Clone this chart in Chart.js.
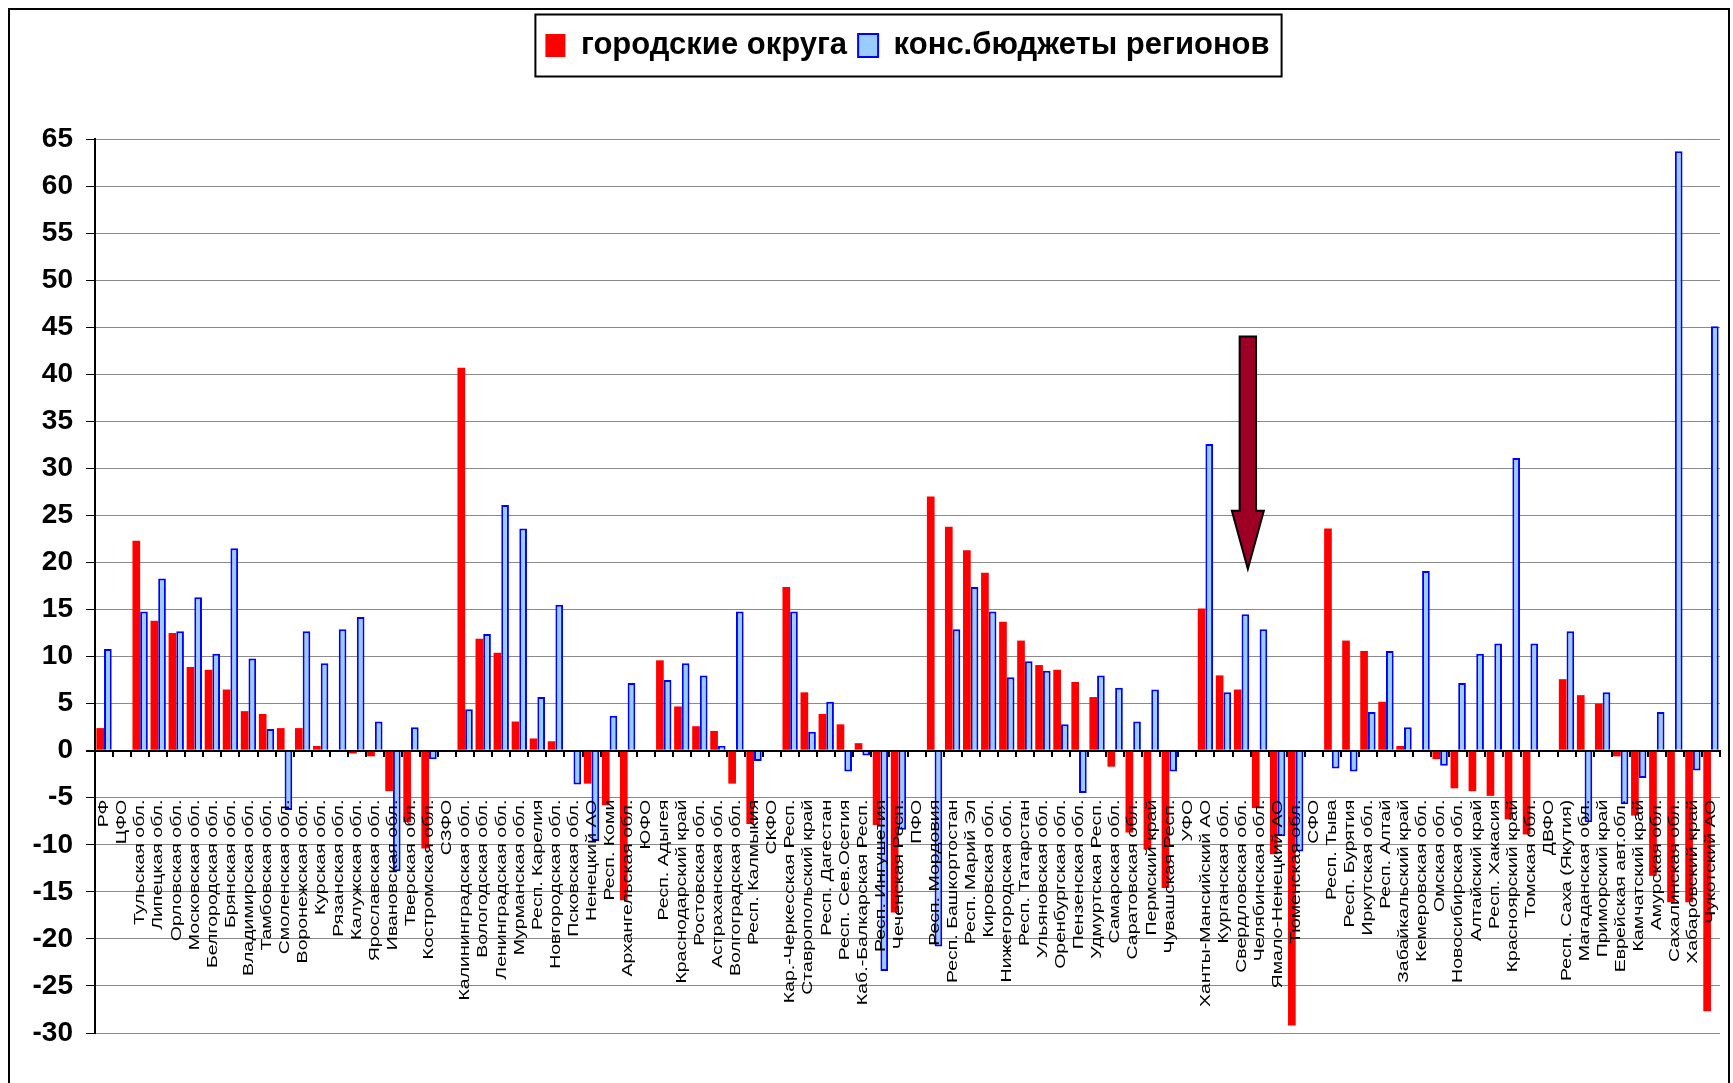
<!DOCTYPE html>
<html lang="ru">
<head>
  <meta charset="UTF-8">
  <title>Городские округа и конс. бюджеты регионов</title>
  <script src="https://cdn.jsdelivr.net/npm/chart.js"></script>
  <style>
    html, body { margin: 0; padding: 0; background: #fff; }
    .wrap { position: relative; width: 1733px; height: 1083px; overflow: hidden; }
    .frame { position: absolute; left: 8px; top: 8px; width: 1722px; height: 1200px;
             border: 2px solid #000; box-sizing: border-box; pointer-events: none; }
  </style>
</head>
<body>
  <div class="wrap">
    <canvas id="chart" width="1733" height="1083"></canvas>
    <div class="frame"></div>
  </div>

  <script>
    // регионы по округам
    const regions = [
      'РФ', 'ЦФО', 'Тульская обл.', 'Липецкая обл.', 'Орловская обл.', 'Московская обл.',
      'Белгородская обл.', 'Брянская обл.', 'Владимирская обл.', 'Тамбовская обл.', 'Смоленская обл.',
      'Воронежская обл.', 'Курская обл.', 'Рязанская обл.', 'Калужская обл.', 'Ярославская обл.',
      'Ивановская обл.', 'Тверская обл.', 'Костромская обл.', 'СЗФО', 'Калининградская обл.',
      'Вологодская обл.', 'Ленинградская обл.', 'Мурманская обл.', 'Респ. Карелия', 'Новгородская обл.',
      'Псковская обл.', 'Ненецкий АО', 'Респ. Коми', 'Архангельская обл.', 'ЮФО', 'Респ. Адыгея',
      'Краснодарский край', 'Ростовская обл.', 'Астраханская обл.', 'Волгоградская обл.', 'Респ. Калмыкия',
      'СКФО', 'Кар.-Черкесская Респ.', 'Ставропольский край', 'Респ. Дагестан', 'Респ. Сев.Осетия',
      'Каб.-Балкарская Респ.', 'Респ. Ингушетия', 'Чеченская Респ.', 'ПФО', 'Респ. Мордовия',
      'Респ. Башкортостан', 'Респ. Марий Эл', 'Кировская обл.', 'Нижегородская обл.', 'Респ. Татарстан',
      'Ульяновская обл.', 'Оренбургская обл.', 'Пензенская обл.', 'Удмуртская Респ.', 'Самарская обл.',
      'Саратовская обл.', 'Пермский край', 'Чувашская Респ.', 'УФО', 'Ханты-Мансийский АО',
      'Курганская обл.', 'Свердловская обл.', 'Челябинская обл.', 'Ямало-Ненецкий АО', 'Тюменская обл.',
      'СФО', 'Респ. Тыва', 'Респ. Бурятия', 'Иркутская обл.', 'Респ. Алтай', 'Забайкальский край',
      'Кемеровская обл.', 'Омская обл.', 'Новосибирская обл.', 'Алтайский край', 'Респ. Хакасия',
      'Красноярский край', 'Томская обл.', 'ДВФО', 'Респ. Саха (Якутия)', 'Магаданская обл.',
      'Приморский край', 'Еврейская авт.обл.', 'Камчатский край', 'Амурская обл.', 'Сахалинская обл.',
      'Хабаровский край', 'Чукотский АО'
    ];

    // городские округа, %
    const gorodOkruga = [
      2.4, null, 22.3, 13.8, 12.5, 8.9, 8.6, 6.5, 4.2, 3.9, 2.4,
      2.4, 0.5, null, -0.3, -0.6, -4.3, -7.6, -10.4, null, 40.7,
      11.9, 10.4, 3.1, 1.3, 1.0, null, -3.5, -5.8, -15.9, null, 9.6,
      4.7, 2.6, 2.1, -3.5, -7.8, null, 17.4, 6.2, 3.9, 2.8,
      0.8, -7.9, -17.2, null, 27.0, 23.8, 21.3, 18.9, 13.7, 11.7,
      9.1, 8.6, 7.3, 5.7, -1.7, -8.7, -10.5, -14.6, null, 15.1,
      8.0, 6.5, -6.1, -11.0, -29.2, null, 23.6, 11.7, 10.6, 5.2, 0.5,
      null, -0.9, -4.0, -4.3, -4.8, -7.3, -8.9, null, 7.6, 5.9,
      5.0, -0.6, -6.9, -13.3, -16.1, -16.1, -27.7
    ];

    // консолидированные бюджеты регионов, %
    const konsBudgety = [
      10.8, null, 14.8, 18.3, 12.7, 16.3, 10.3, 21.5, 9.8, 2.3, -6.3,
      12.7, 9.3, 12.9, 14.2, 3.1, -12.8, 2.5, -0.9, null, 4.4,
      12.4, 26.1, 23.6, 5.7, 15.5, -3.6, -9.6, 3.7, 7.2, null, 7.5,
      9.3, 8.0, 0.5, 14.8, -1.1, null, 14.8, 2.0, 5.2, -2.2,
      -0.5, -23.4, -8.4, null, -20.8, 12.9, 17.4, 14.8, 7.8, 9.5,
      8.5, 2.8, -4.5, 8.0, 6.7, 3.1, 6.5, -2.2, null, 32.6,
      6.2, 14.5, 12.9, -9.1, -10.7, null, -1.9, -2.2, 4.1, 10.6, 2.5,
      19.1, -1.6, 7.2, 10.3, 11.4, 31.1, 11.4, null, 12.7, -7.6,
      6.2, -5.7, -2.9, 4.1, 63.7, -2.1, 45.1
    ];

    const seriesNames = ['городские округа', 'конс.бюджеты регионов'];
    const yMin = -30, yMax = 65, yStep = 5;

    // стрелка над Свердловской обл. (значения по оси Y)
    const arrowMark = { region: 'Свердловская обл.', shift: 0.35, from: 44, head: 25.5, to: 19.3 };

    // подписи регионов: вертикально, растянутые по длине, поверх столбцов
    const regionLabels = {
      id: 'regionLabels',
      afterDatasetsDraw(chart) {
        const xs = chart.scales.x, ys = chart.scales.y, ctx = chart.ctx;
        const top = ys.getPixelForValue(0) + 49;
        ctx.save();
        ctx.font = '15.5px "Liberation Sans", Arial, sans-serif';
        ctx.fillStyle = '#000';
        ctx.textAlign = 'right';
        ctx.textBaseline = 'middle';
        regions.forEach((name, i) => {
          ctx.save();
          ctx.translate(xs.getPixelForValue(i), top);
          ctx.rotate(-Math.PI / 2);
          ctx.scale(1.26, 1);
          ctx.fillText(name, 0, 0);
          ctx.restore();
        });
        ctx.restore();
      }
    };

    const arrowPlugin = {
      id: 'arrowPlugin',
      afterDatasetsDraw(chart) {
        const xs = chart.scales.x, ys = chart.scales.y, ctx = chart.ctx;
        const cx = xs.getPixelForValue(regions.indexOf(arrowMark.region) + arrowMark.shift);
        const y0 = ys.getPixelForValue(arrowMark.from);
        const y1 = ys.getPixelForValue(arrowMark.head);
        const y2 = ys.getPixelForValue(arrowMark.to);
        const sw = 8.2, hw = 16;
        ctx.save();
        ctx.beginPath();
        ctx.moveTo(cx - sw, y0);
        ctx.lineTo(cx + sw, y0);
        ctx.lineTo(cx + sw, y1);
        ctx.lineTo(cx + hw, y1);
        ctx.lineTo(cx, y2);
        ctx.lineTo(cx - hw, y1);
        ctx.lineTo(cx - sw, y1);
        ctx.closePath();
        ctx.fillStyle = '#9e0025';
        ctx.fill();
        ctx.lineWidth = 2;
        ctx.strokeStyle = '#000';
        ctx.stroke();
        ctx.restore();
      }
    };

    // рамка вокруг легенды + высота легенды до области графика
    const legendFrame = {
      id: 'legendFrame',
      afterInit(chart) {
        const legend = chart.legend;
        const fit = legend.fit;
        legend.fit = function () { fit.call(this); this.height = 120; };
      },
      afterDraw(chart) {
        const boxes = chart.legend.legendHitBoxes;
        if (!boxes || !boxes.length) return;
        const first = boxes[0], last = boxes[boxes.length - 1];
        const left = first.left - 10, right = last.left + last.width + 12;
        const mid = first.top + first.height / 2;
        const ctx = chart.ctx;
        ctx.save();
        ctx.lineWidth = 2;
        ctx.strokeStyle = '#000';
        ctx.strokeRect(left, mid - 31, right - left, 62);
        ctx.restore();
      }
    };

    new Chart(document.getElementById('chart'), {
      type: 'bar',
      data: {
        labels: regions,
        datasets: [
          {
            label: seriesNames[0],
            data: gorodOkruga,
            backgroundColor: '#ff0000',
            borderWidth: 0,
            categoryPercentage: 0.85,
            barPercentage: 1.0
          },
          {
            label: seriesNames[1],
            data: konsBudgety,
            backgroundColor: '#99ccff',
            borderColor: '#0000ff',
            borderWidth: 2,
            categoryPercentage: 0.85,
            barPercentage: 1.0
          }
        ]
      },
      options: {
        responsive: false,
        animation: false,
        layout: { padding: { top: 19, right: 13, bottom: 50, left: 0 } },
        plugins: {
          tooltip: { enabled: false },
          legend: {
            position: 'top',
            fullSize: false,
            labels: {
              color: '#000',
              boxWidth: 20,
              boxHeight: 23,
              padding: 11,
              font: { family: '"Liberation Sans", Arial, sans-serif', size: 31, weight: 'bold' }
            }
          }
        },
        scales: {
          x: {
            position: { y: 0 },
            offset: true,
            ticks: { display: false },
            grid: { offset: true, drawOnChartArea: false, drawTicks: true, tickLength: 5, color: '#000', lineWidth: 2 },
            border: { display: true, color: '#000', width: 2 }
          },
          y: {
            min: yMin,
            max: yMax,
            afterFit(scale) { scale.width = 95; },
            ticks: {
              stepSize: yStep,
              padding: 13,
              color: '#000',
              font: { family: '"Liberation Sans", Arial, sans-serif', size: 28, weight: 'bold' }
            },
            grid: {
              color: ctx => ctx.tick && ctx.tick.value === 0 ? '#000' : '#8a8a8a',
              lineWidth: ctx => ctx.tick && ctx.tick.value === 0 ? 2 : 1,
              tickColor: '#000',
              tickLength: 9
            },
            border: { color: '#000', width: 2 }
          }
        }
      },
      plugins: [regionLabels, arrowPlugin, legendFrame]
    });
  </script>
</body>
</html>
